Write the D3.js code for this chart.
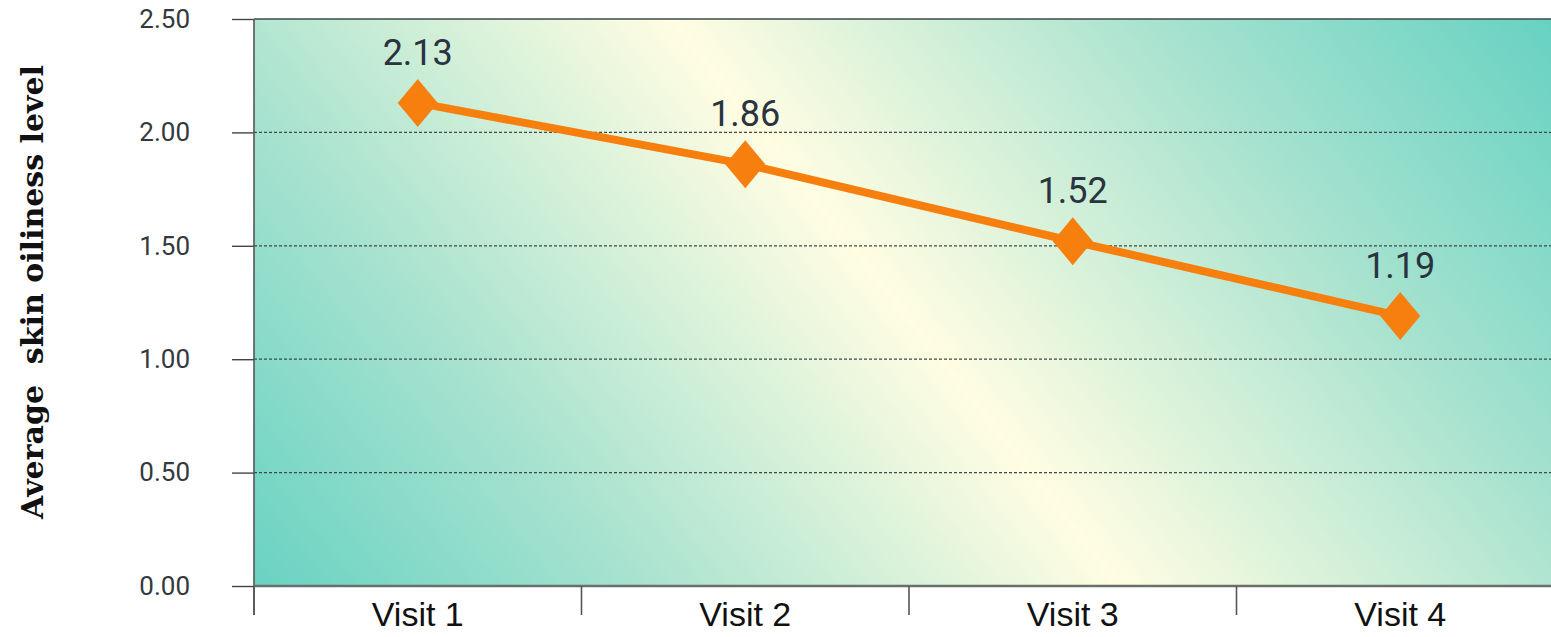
<!DOCTYPE html>
<html>
<head>
<meta charset="utf-8">
<script src="https://cdn.jsdelivr.net/npm/d3@7"></script>
<style>
  body { margin: 0; background: #fff; }
  svg { display: block; }
</style>
</head>
<body>
<svg id="chart" width="1551" height="637"></svg>
<script>
  // data
  let visits = ['Visit 1', 'Visit 2', 'Visit 3', 'Visit 4']
  let oiliness = [2.13, 1.86, 1.52, 1.19]
  let yTicks = [0, 0.5, 1, 1.5, 2, 2.5]
  let yTitle = 'Average\u00a0\u00a0skin oiliness level'

  let svg = d3.select('#chart')
  let plotLeft = 254, plotRight = 1564, plotTop = 19, plotBottom = 586

  let x = d3.scaleBand().domain(visits).range([plotLeft, plotRight])
  let y = d3.scaleLinear().domain([0, 2.5]).range([plotBottom, plotTop])

  // background gradient: teal corners, pale yellow diagonal band
  let defs = svg.append('defs')
  let grad = defs.append('linearGradient')
    .attr('id', 'bg')
    .attr('gradientUnits', 'userSpaceOnUse')
    .attr('x1', 353).attr('y1', 720)
    .attr('x2', 1427).attr('y2', -130)
  grad.selectAll('stop')
    .data([
      [0, '#68d2c2'], [0.22, '#a6e2cf'], [0.5, '#fffde2'], [0.78, '#a6e2cf'], [1, '#68d2c2']
    ])
    .enter().append('stop')
    .attr('offset', d => d[0])
    .attr('stop-color', d => d[1])

  svg.append('rect')
    .attr('x', plotLeft).attr('y', plotTop)
    .attr('width', 1551 - plotLeft).attr('height', plotBottom - plotTop)
    .attr('fill', 'url(#bg)')

  // gridlines (dotted), top one solid
  svg.append('g')
    .selectAll('line')
    .data(yTicks.filter(d => d > 0))
    .enter().append('line')
    .attr('x1', plotLeft).attr('x2', 1551)
    .attr('y1', d => y(d)).attr('y2', d => y(d))
    .attr('stroke', '#3d4a48')
    .attr('stroke-width', d => d == 2.5 ? 1.6 : 1.2)
    .attr('stroke-dasharray', d => d == 2.5 ? null : '3,2')

  // y axis
  let yAxis = svg.append('g')
    .attr('transform', `translate(${plotLeft},0)`)
    .call(d3.axisLeft(y).tickValues(yTicks).tickSize(22).tickPadding(42).tickFormat(d3.format('.2f')))
  yAxis.select('.domain').remove()
  yAxis.selectAll('line').attr('stroke', '#444').attr('stroke-width', 1.4)
  yAxis.selectAll('text')
    .attr('font-family', 'Roboto')
    .attr('font-size', 26)
    .attr('fill', '#33393d')

  svg.append('line')
    .attr('x1', plotLeft).attr('x2', plotLeft)
    .attr('y1', plotTop).attr('y2', 615)
    .attr('stroke', '#555').attr('stroke-width', 1.6)

  // x axis
  let xAxis = svg.append('g')
    .attr('transform', `translate(0,${plotBottom})`)
    .call(d3.axisBottom(x).tickSize(0))
  xAxis.select('.domain').remove()
  xAxis.selectAll('text')
    .attr('y', 40)
    .attr('dy', null)
    .attr('font-family', 'Liberation Sans, Arial')
    .attr('font-size', 34)
    .attr('fill', '#111')

  svg.append('line')
    .attr('x1', plotLeft).attr('x2', 1551)
    .attr('y1', plotBottom).attr('y2', plotBottom)
    .attr('stroke', '#6a6f6c').attr('stroke-width', 2.5)

  svg.append('g')
    .selectAll('line')
    .data(visits)
    .enter().append('line')
    .attr('x1', d => x(d)).attr('x2', d => x(d))
    .attr('y1', plotBottom).attr('y2', 615)
    .attr('stroke', '#555').attr('stroke-width', 1.6)

  // y title
  svg.append('text')
    .attr('transform', 'translate(43,292) rotate(-90)')
    .attr('text-anchor', 'middle')
    .attr('font-family', 'DejaVu Serif')
    .attr('font-weight', 'bold')
    .attr('font-size', 30)
    .attr('fill', '#111')
    .text(yTitle)

  // line + markers
  let cx = d => x(d) + x.bandwidth() / 2
  let pts = visits.map((v, i) => [cx(v), y(oiliness[i])])

  svg.append('path')
    .attr('d', d3.line()(pts))
    .attr('fill', 'none')
    .attr('stroke', '#f77f0e')
    .attr('stroke-width', 8)

  svg.append('g')
    .selectAll('path')
    .data(pts)
    .enter().append('path')
    .attr('d', d => `M${d[0]},${d[1] - 24} L${d[0] + 20},${d[1]} L${d[0]},${d[1] + 24} L${d[0] - 20},${d[1]} Z`)
    .attr('fill', '#f77f0e')

  svg.append('g')
    .selectAll('text')
    .data(oiliness)
    .enter().append('text')
    .attr('x', (d, i) => pts[i][0])
    .attr('y', (d, i) => pts[i][1] - 38)
    .attr('text-anchor', 'middle')
    .attr('font-family', 'Roboto')
    .attr('font-size', 36)
    .attr('fill', '#2a3340')
    .text(d => d.toFixed(2))
</script>
</body>
</html>
